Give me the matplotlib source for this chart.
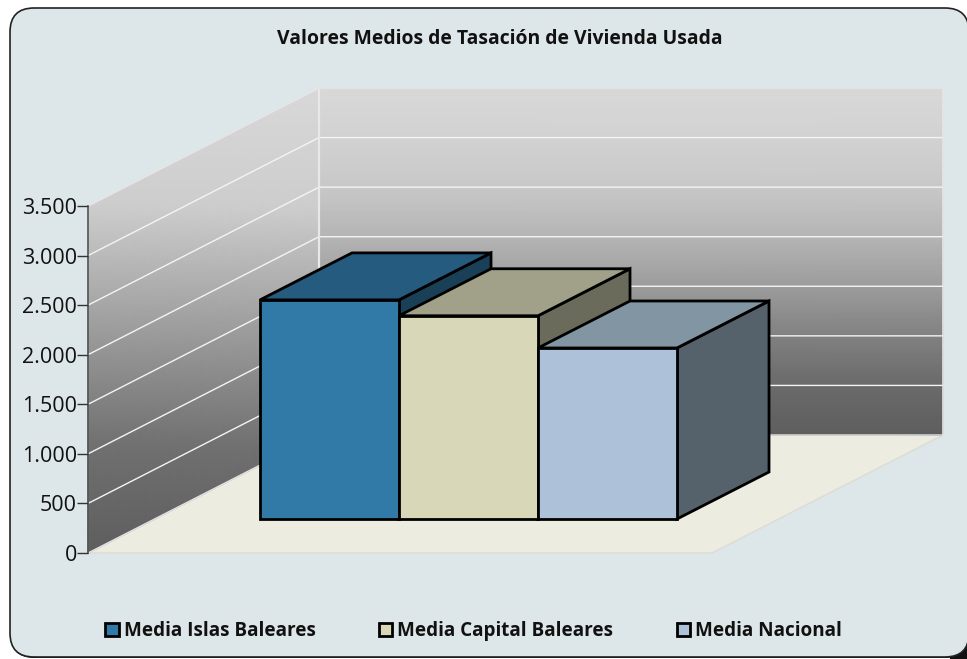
import numpy as np
import matplotlib
matplotlib.use("Agg")
import matplotlib.pyplot as plt
from matplotlib.patches import Polygon, Rectangle, FancyBboxPatch
from matplotlib.colors import LinearSegmentedColormap
from matplotlib.ticker import FuncFormatter

title = "Valores Medios de Tasación de Vivienda Usada"
series = ["Media Islas Baleares", "Media Capital Baleares", "Media Nacional"]
values = [2210, 2050, 1725]
front_colors = ["#317aa8", "#d8d7b8", "#adc2d8"]
top_colors = ["#255b7e", "#a1a18a", "#8195a2"]
side_colors = ["#1a4058", "#6b6b5c", "#55616b"]
y_ticks = [0, 500, 1000, 1500, 2000, 2500, 3000, 3500]

W, H = 967, 659
FONT = "Open Sans"
fig = plt.figure(figsize=(W/100, H/100), dpi=100, facecolor="white")

def px(n):
    return n*72/100

bg = fig.add_axes([0, 0, 1, 1], zorder=0)
bg.set_xlim(0, W); bg.set_ylim(H, 0); bg.axis("off")
bg.add_patch(Rectangle((950, 640), 17, 19, fc="#111111", ec="none"))
bg.add_patch(FancyBboxPatch((10.5, 9), 959, 649, boxstyle="round,pad=0,rounding_size=24",
                            fc="#111111", ec="none"))
bg.add_patch(FancyBboxPatch((10, 8), 959, 649, boxstyle="round,pad=0,rounding_size=24",
                            fc="#dde6e9", ec="#222222", lw=1.2))

# chart axes: x = category position, y = value
L, R, B, T = 88, 712, 553, 206
ax = fig.add_axes([L/W, 1-B/H, (R-L)/W, (B-T)/H], zorder=1)
ax.patch.set_alpha(0)
d0 = (553-519)/118
d1 = (553-472)/118
BAR_PX = 139
BAR_X0 = 260 - d0*231
ax.set_xlim((L-BAR_X0)/BAR_PX, (R-BAR_X0)/BAR_PX)
ax.set_ylim(0, 3500)
V_PX = (B-T)/3500
DX, DY = 231/BAR_PX, 118/V_PX   # full floor depth in data units

def proj(x, v, d):
    return x + np.asarray(d)*DX, v + np.asarray(d)*DY

def grey_map(stops, bottom, top):
    pts = [((bottom-y)/(bottom-top), (g/255, g/255, g/255)) for y, g in stops]
    return LinearSegmentedColormap.from_list("wall", pts)

x0, x1 = ax.get_xlim()
side_cmap = grey_map([(553, 94), (447, 112), (347, 150), (206, 205), (88, 216)], 553, 88)
back_cmap = grey_map([(435, 94), (386, 106), (337, 128), (287, 156), (238, 180),
                      (187, 200), (138, 210), (88, 216)], 435, 88)

# floor
floor = [proj(x0, 0, 0), proj(x1, 0, 0), proj(x1, 0, 1), proj(x0, 0, 1)]
ax.add_patch(Polygon(floor, closed=True, fc="#ecece0", ec="#dcdcd4", lw=1, clip_on=False, zorder=1))

# gradient walls: the shading follows the screen height
vv = np.linspace(0, 3500, 60)
dd = np.linspace(0, 1, 40)
D, V = np.meshgrid(dd, vv)
X, Y = proj(x0, V, D)
ax.pcolormesh(X, Y, Y, cmap=side_cmap, vmin=0, vmax=3500+DY, shading="gouraud",
              clip_on=False, zorder=1.1)
XX = np.linspace(x0, x1, 2)
Xb, Vb = np.meshgrid(XX, vv)
X2, Y2 = proj(Xb, Vb, 1)
ax.pcolormesh(X2, Y2, Vb, cmap=back_cmap, vmin=0, vmax=3500, shading="gouraud",
              clip_on=False, zorder=1.1)

# grid
for t in y_ticks[1:-1]:
    ax.plot(*zip(proj(x0, t, 0), proj(x0, t, 1), proj(x1, t, 1)), color="#f4f4f4", lw=1,
            clip_on=False, zorder=1.2, solid_joinstyle="miter")
ax.plot(*zip(proj(x0, 0, 1), proj(x0, 3500, 1)), color="#e8e8e8", lw=1.6, clip_on=False, zorder=1.2)
ax.plot(*zip(proj(x0, 3500, 0), proj(x0, 3500, 1), proj(x1, 3500, 1), proj(x1, 0, 1)),
        color="#e6e6e6", lw=1.2, clip_on=False, zorder=1.2)
ax.plot(*zip(proj(x0, 0, 0), proj(x0, 0, 1), proj(x1, 0, 1)), color="#e6e6e6", lw=1,
        clip_on=False, zorder=1.2)

# bars
edge = dict(ec="black", lw=2, joinstyle="miter", clip_on=False)
for i, v in enumerate(values):
    z = 2 + i*0.1
    a, b = i, i+1
    ax.add_patch(Polygon([proj(b, 0, d0), proj(b, 0, d1), proj(b, v, d1), proj(b, v, d0)],
                         fc=side_colors[i], zorder=z, **edge))
    ax.add_patch(Polygon([proj(a, v, d0), proj(b, v, d0), proj(b, v, d1), proj(a, v, d1)],
                         fc=top_colors[i], zorder=z, **edge))
    ax.add_patch(Polygon([proj(a, 0, d0), proj(b, 0, d0), proj(b, v, d0), proj(a, v, d0)],
                         fc=front_colors[i], zorder=z+0.01, **edge))

# axis
for s in ["top", "right", "bottom"]:
    ax.spines[s].set_visible(False)
ax.spines["left"].set_color("#555555")
ax.spines["left"].set_linewidth(1.2)
ax.spines["left"].set_zorder(1.5)
ax.set_xticks([])
ax.set_yticks(y_ticks)
ax.yaxis.set_major_formatter(FuncFormatter(lambda v, _: f"{int(v):,}".replace(",", ".")))
ax.tick_params(axis="y", length=8, width=1, color="#333333", pad=0, labelsize=px(21.5),
               labelcolor="#111111")
for lab in ax.get_yticklabels():
    lab.set_family(FONT)

# title
fig.text(500/W, 1-38.5/H, title, ha="center", va="center", family=FONT, fontweight="bold",
         fontsize=px(19.4), color="#111111")

# legend
handles = [Rectangle((0, 0), 1, 1, fc=c, ec="black", lw=2) for c in front_colors]
fig.legend(handles, series, ncol=3, loc="center left", bbox_to_anchor=(105/W, 1-631/H),
           frameon=False, handlelength=0.72, handleheight=0.72, handletextpad=0.26,
           columnspacing=3.35, borderpad=0, borderaxespad=0,
           prop=dict(family=FONT, weight="bold", size=px(18.9)), labelcolor="#111111")

fig.savefig("out.png", dpi=100, facecolor="white")
